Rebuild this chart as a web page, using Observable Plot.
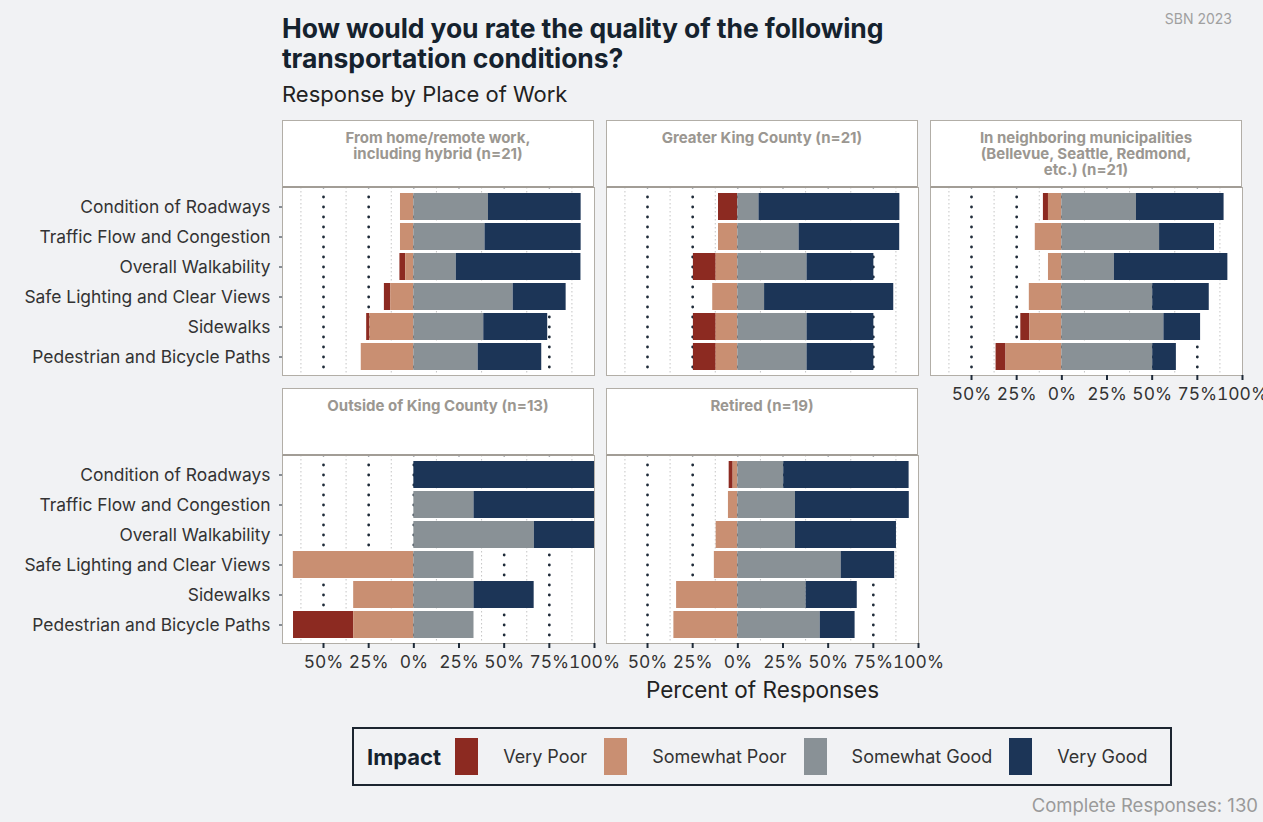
<!DOCTYPE html>
<html><head><meta charset="utf-8">
<script src="https://cdn.jsdelivr.net/npm/d3@7"></script>
<script src="https://cdn.jsdelivr.net/npm/@observablehq/plot@0.6"></script>
<style>
body{margin:0;background:#f1f2f4;font-family:Inter,"Noto Sans",sans-serif;}
#root{position:relative;width:1263px;height:822px;overflow:hidden;background:#f1f2f4;}
#title{position:absolute;left:282px;top:13px;font-size:26.5px;font-weight:700;line-height:30px;color:#15222e;letter-spacing:-0.1px;}
#subtitle{position:absolute;left:282px;top:81px;font-size:22px;color:#222;}
#sbn{position:absolute;right:31px;top:10px;font-size:14px;color:#a0a0a0;}
#chart{position:absolute;left:0;top:110px;}
.strip{position:absolute;box-sizing:border-box;background:#fff;border:1px solid #b2aea7;border-bottom:2px solid #a29d96;text-align:center;font-weight:700;font-size:15px;line-height:16px;color:#9b9791;padding-top:9px;white-space:pre-line;}
#xlabel{position:absolute;top:676px;left:282px;width:961px;text-align:center;font-size:22.5px;color:#222;}
#legend{position:absolute;left:352px;top:727px;width:820px;height:59px;box-sizing:border-box;border:2px solid #1c2530;display:flex;align-items:center;padding-left:13px;}
#impact{font-size:22px;font-weight:700;color:#15222e;margin-right:14px;}
#legend .lg-swatches{font-size:18px;color:#333;font-family:Inter,"Noto Sans",sans-serif;margin:0;}
#legend .lg-swatch{margin-right:17px !important;}
#legend .lg-swatch > svg{margin-right:25px !important;}
#caption{position:absolute;right:5px;top:794px;font-size:18.5px;color:#9a9a9a;}
</style></head>
<body><div id="root">
<div id="title">How would you rate the quality of the following<br>transportation conditions?</div>
<div id="subtitle">Response by Place of Work</div>
<div id="sbn">SBN 2023</div>
<div id="chart"></div>
<div id="xlabel">Percent of Responses</div>
<div id="legend"><span id="impact">Impact</span></div>
<div id="caption">Complete Responses: 130</div>
</div>
<script>
const categories = ["Condition of Roadways","Traffic Flow and Congestion","Overall Walkability","Safe Lighting and Clear Views","Sidewalks","Pedestrian and Bicycle Paths"];
const panels = ["From home/remote work,\nincluding hybrid (n=21)","Greater King County (n=21)","In neighboring municipalities\n(Bellevue, Seattle, Redmond,\netc.) (n=21)","Outside of King County (n=13)","Retired (n=19)"];
const levels = ["Very Poor","Somewhat Poor","Somewhat Good","Very Good"];
const colors = ["#8c2a21","#c98f72","#899196","#1c3557"];
// values in percent, one inner list per panel, in category order
const veryPoor = [
  [0,0,3.2,3.5,1.7,0],
  [10.7,0,12.6,0,12.6,12.6],
  [2.8,0,0,0,5.0,5.5],
  [0,0,0,0,0,33.3],
  [2.2,0,0,0,0,0]
];
const somewhatPoor = [
  [7.4,7.4,4.5,12.8,24.4,29.1],
  [0,10.7,12.0,13.9,12.0,12.0],
  [7.4,14.7,7.4,18.0,17.7,30.9],
  [0,0,0,66.7,33.3,33.3],
  [2.6,5.2,12.0,13.0,33.9,35.4]
];
const somewhatGood = [
  [41.3,39.4,23.5,55.0,38.7,35.6],
  [11.7,33.9,38.3,14.8,38.3,38.3],
  [41.3,54.1,29.1,50.3,56.5,50.3],
  [0,33.3,66.7,33.3,33.3,33.3],
  [25.4,31.9,31.9,57.2,37.8,45.6]
];
const veryGood = [
  [51.3,53.2,69.0,29.3,35.4,35.2],
  [78.0,55.7,37.0,71.5,37.0,37.0],
  [48.5,30.4,62.8,31.3,20.3,13.1],
  [100,66.7,33.3,0,33.3,0],
  [69.4,63.0,55.9,29.6,28.3,19.3]
];
const xTicks = [-50,-25,0,25,50,75,100];
const majorGrid = [-50,-25,0,25,50,75];
const minorGrid = [-62.5,-37.5,-12.5,12.5,37.5,62.5,87.5];

const series = [[veryPoor,-1],[somewhatPoor,-1],[somewhatGood,1],[veryGood,1]];
const rows = [];
panels.forEach((p, pi) => {
  categories.forEach((c, ci) => {
    series.forEach(([arr, sign], li) => {
      const v = arr[pi][ci];
      if (v > 0) rows.push({col: pi % 3, row: Math.floor(pi / 3), category: c, level: levels[li], value: sign * v});
    });
  });
});

const chart = Plot.plot({
  width: 1263, height: 570,
  marginLeft: 282, marginRight: 20, marginTop: 77, marginBottom: 37,
  style: {fontFamily: "Inter, 'Noto Sans', sans-serif", fontSize: "17.4px", color: "#333", background: "transparent", overflow: "visible"},
  fx: {domain: [0,1,2], paddingInner: 0.037, paddingOuter: 0, axis: null},
  fy: {domain: [0,1], paddingInner: 0.3, paddingOuter: 0, axis: null},
  x: {domain: [-72.7, 100]},
  y: {domain: categories, paddingInner: 0.1, paddingOuter: 0.15},
  color: {domain: levels, range: colors},
  marks: [
    Plot.frame({fill: "white"}),
    Plot.ruleX(minorGrid, {stroke: "#c4c4c4", strokeWidth: 1, strokeDasharray: "1.5,2.5"}),
    Plot.ruleX(majorGrid, {stroke: "#1e2a38", strokeWidth: 2.8, strokeDasharray: "0,10", strokeLinecap: "round"}),
    Plot.barX(rows, {x: "value", y: "category", fill: "level", fx: "col", fy: "row", order: ["Somewhat Poor","Very Poor","Somewhat Good","Very Good"]}),
    Plot.frame({stroke: "#b2aea7"}),
    Plot.axisX({ticks: xTicks, tickFormat: d => Math.abs(d) + "%", tickSize: 5, tickPadding: 7, facetAnchor: "bottom-empty", label: null, stroke: "#1e2a38", strokeWidth: 2}),
    Plot.axisY({tickSize: 3, tickPadding: 9, label: null, facetAnchor: "left", stroke: "#1e2a38"})
  ]
});
document.getElementById("chart").appendChild(chart);

// facet strips positioned from the facet scales
const fxS = chart.scale("fx"), fyS = chart.scale("fy");
const root = document.getElementById("root");
panels.forEach((p, pi) => {
  const c = pi % 3, r = Math.floor(pi / 3);
  const left = fxS.apply(c), top = 110 + fyS.apply(r);
  const d = document.createElement("div");
  d.className = "strip";
  d.textContent = p;
  d.style.left = left + "px";
  d.style.width = fxS.bandwidth + "px";
  d.style.top = (top - 67) + "px";
  d.style.height = "68px";
  root.appendChild(d);
});

const leg = Plot.legend({color: {domain: levels, range: colors}, legend: "swatches", swatchWidth: 23, swatchHeight: 37, className: "lg"});
document.getElementById("legend").appendChild(leg);
</script>
</body></html>
